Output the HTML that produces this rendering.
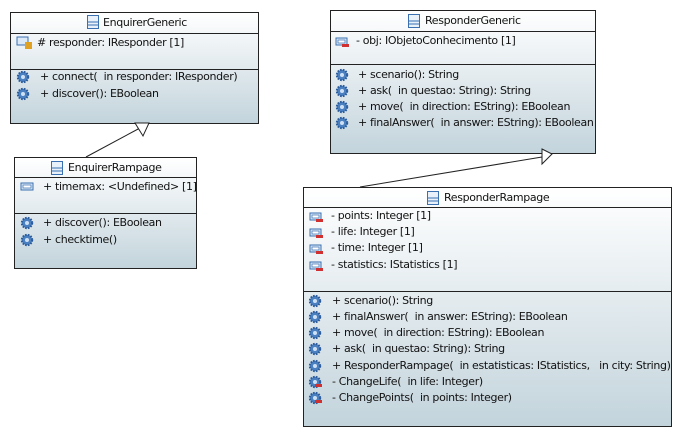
<!DOCTYPE html>
<html><head><meta charset="utf-8"><style>
body{margin:0;width:682px;height:437px;background:#fff;position:relative;overflow:hidden;font-family:"DejaVu Sans","Liberation Sans",sans-serif;font-size:11px;color:#111}
.box{position:absolute;border:1px solid #222;box-sizing:border-box;background:linear-gradient(#ffffff,#c3d4dc)}
.sep{position:absolute;left:0;right:0;height:0;border-top:1px solid #222}
.t{position:absolute;white-space:nowrap;line-height:16px;height:16px;letter-spacing:-0.35px}
.ic{position:absolute;width:14px;height:14px}
</style></head><body>
<svg width="682" height="437" style="position:absolute;left:0;top:0">
<defs>
<g id="gear"><circle cx="7" cy="7" r="5.2" fill="#4a7fc0" stroke="#2a5a9a" stroke-width="2" stroke-dasharray="1.6 1.2"/><circle cx="7" cy="7" r="2" fill="#cfe0f5"/></g>
<g id="attr"><rect x="1" y="3" width="11" height="7" fill="#dbe8f6" stroke="#3a6fb0"/><rect x="3" y="5" width="7" height="3" fill="#fff" stroke="#3a6fb0" stroke-width="0.7"/><rect x="7" y="9" width="7" height="3" fill="#d03030"/></g>
<g id="gearp"><use href="#gear"/><rect x="7" y="9" width="7" height="3" fill="#d03030"/></g>
<g id="cls"><rect x="1.5" y="0.5" width="11" height="13" fill="#e8f0fa" stroke="#3a6fb0"/><line x1="1.5" y1="7" x2="12.5" y2="7" stroke="#3a6fb0"/><line x1="1.5" y1="10" x2="12.5" y2="10" stroke="#3a6fb0"/></g>
</defs>
</svg>

<div class="box" style="left:10px;top:12px;width:249px;height:112px">
<div class="sep" style="top:20px"></div><div class="sep" style="top:56px"></div></div>
<div class="box" style="left:14px;top:157px;width:183px;height:112px">
<div class="sep" style="top:19px"></div><div class="sep" style="top:55px"></div></div>
<div class="box" style="left:330px;top:10px;width:266px;height:144px">
<div class="sep" style="top:20px"></div><div class="sep" style="top:53px"></div></div>
<div class="box" style="left:303px;top:187px;width:369px;height:240px">
<div class="sep" style="top:19px"></div><div class="sep" style="top:103px"></div></div>

<svg width="682" height="437" style="position:absolute;left:0;top:0">
<line x1="86" y1="157" x2="140" y2="128" stroke="#222"/>
<polygon points="135,123 149,123 143,136" fill="#fff" stroke="#222"/>
<line x1="360" y1="187" x2="542" y2="157" stroke="#222"/>
<polygon points="542,149 552,154 542,164" fill="#fff" stroke="#222"/>
<!-- icons -->
<use href="#cls" x="86" y="15"/>
<use href="#cls" x="50" y="161"/>
<use href="#cls" x="407" y="14"/>
<use href="#cls" x="426" y="191"/>
<g><rect x="17" y="37" width="11" height="8" fill="#dbe8f6" stroke="#3a6fb0"/><rect x="25" y="42" width="7" height="7" fill="#e0a020"/></g>
<use href="#gear" x="16" y="70"/><use href="#gear" x="16" y="87"/>
<g><rect x="21" y="183" width="12" height="7" fill="#dbe8f6" stroke="#3a6fb0"/><rect x="23" y="185" width="8" height="3" fill="#fff" stroke="#3a6fb0" stroke-width="0.7"/></g>
<use href="#gear" x="20" y="216"/><use href="#gear" x="20" y="233"/>
<use href="#attr" x="335" y="35"/>
<use href="#gear" x="335" y="68"/><use href="#gear" x="335" y="84"/><use href="#gear" x="335" y="100"/><use href="#gear" x="335" y="116"/>
<use href="#attr" x="309" y="210"/><use href="#attr" x="309" y="226"/><use href="#attr" x="309" y="242"/><use href="#attr" x="309" y="259"/>
<use href="#gear" x="308" y="294"/><use href="#gear" x="308" y="310"/><use href="#gear" x="308" y="326"/><use href="#gear" x="308" y="342"/><use href="#gear" x="308" y="359"/><use href="#gearp" x="308" y="375"/><use href="#gearp" x="308" y="391"/>
</svg>

<div class="t" style="left:103px;top:15px">EnquirerGeneric</div>
<div class="t" style="left:37px;top:35px"># responder: IResponder [1]</div>
<div class="t" style="left:40px;top:69px">+ connect(&nbsp; in responder: IResponder)</div>
<div class="t" style="left:40px;top:86px">+ discover(): EBoolean</div>

<div class="t" style="left:68px;top:160px">EnquirerRampage</div>
<div class="t" style="left:43px;top:179px">+ timemax: &lt;Undefined&gt; [1]</div>
<div class="t" style="left:43px;top:215px">+ discover(): EBoolean</div>
<div class="t" style="left:43px;top:232px">+ checktime()</div>

<div class="t" style="left:425px;top:13px">ResponderGeneric</div>
<div class="t" style="left:356px;top:33px">- obj: IObjetoConhecimento [1]</div>
<div class="t" style="left:358px;top:67px">+ scenario(): String</div>
<div class="t" style="left:358px;top:83px">+ ask(&nbsp; in questao: String): String</div>
<div class="t" style="left:358px;top:99px">+ move(&nbsp; in direction: EString): EBoolean</div>
<div class="t" style="left:358px;top:115px">+ finalAnswer(&nbsp; in answer: EString): EBoolean</div>

<div class="t" style="left:444px;top:190px">ResponderRampage</div>
<div class="t" style="left:331px;top:208px">- points: Integer [1]</div>
<div class="t" style="left:331px;top:224px">- life: Integer [1]</div>
<div class="t" style="left:331px;top:240px">- time: Integer [1]</div>
<div class="t" style="left:331px;top:257px">- statistics: IStatistics [1]</div>
<div class="t" style="left:332px;top:293px">+ scenario(): String</div>
<div class="t" style="left:332px;top:309px">+ finalAnswer(&nbsp; in answer: EString): EBoolean</div>
<div class="t" style="left:332px;top:325px">+ move(&nbsp; in direction: EString): EBoolean</div>
<div class="t" style="left:332px;top:341px">+ ask(&nbsp; in questao: String): String</div>
<div class="t" style="left:332px;top:358px">+ ResponderRampage(&nbsp; in estatisticas: IStatistics,&nbsp;&nbsp; in city: String)</div>
<div class="t" style="left:332px;top:374px">- ChangeLife(&nbsp; in life: Integer)</div>
<div class="t" style="left:332px;top:390px">- ChangePoints(&nbsp; in points: Integer)</div>
</body></html>
